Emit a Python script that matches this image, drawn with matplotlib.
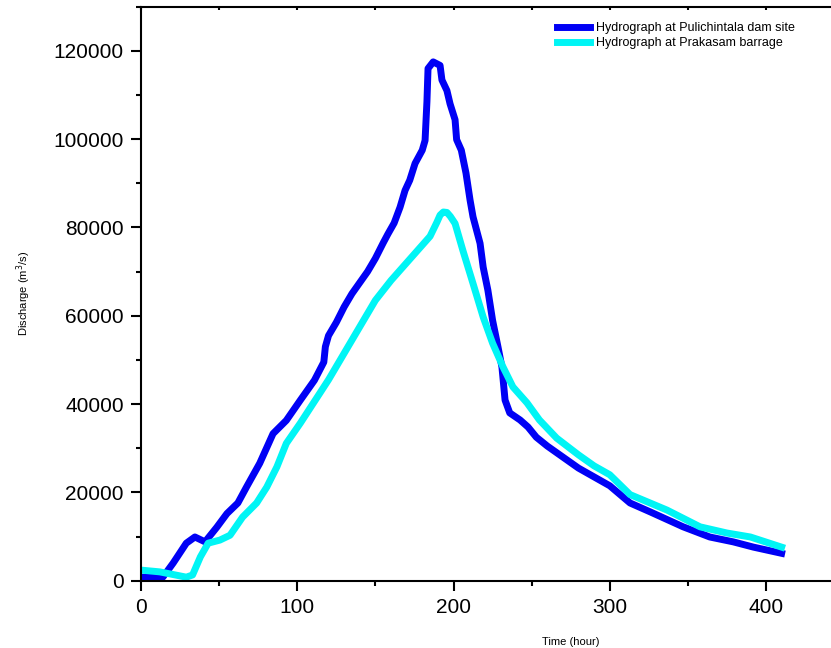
"""Discharge hydrographs at Pulichintala dam site and Prakasam barrage."""
import matplotlib

matplotlib.use("Agg")
import matplotlib.pyplot as plt
from matplotlib.ticker import MultipleLocator

plt.rcParams["font.family"] = ["Liberation Sans", "DejaVu Sans"]

# hydrograph at Pulichintala dam site (hour, m3/s)
PUL_T = [0, 1, 14, 20.6, 29, 34.5, 41, 48.5, 55, 62, 67.5, 76, 84.5, 93, 102, 111,
         117, 118, 120, 125, 130, 135, 140, 145, 150, 155, 158, 162, 165.8, 169, 172,
         175.4, 180, 181.8, 183, 183.7, 187, 191.4, 192.6, 195.8, 197.8, 201, 202, 205,
         208, 210.6, 212.5, 217, 219, 222, 225, 228.5, 231, 233, 236, 242.6, 247.7,
         253, 260, 270, 280, 290, 300, 313, 325.8, 347, 364, 379, 392, 410]
PUL_Q = [500, 800, 800, 4000, 8500, 9900, 8800, 12100, 15200, 17600, 21200, 26600,
         33300, 36300, 40900, 45400, 49500, 53000, 55500, 58500, 62000, 65000, 67500,
         70000, 73000, 76500, 78500, 81000, 84600, 88400, 90700, 94500, 97500, 99700,
         108500, 116000, 117500, 116700, 113400, 111000, 108000, 104400, 99900, 97500,
         92300, 86200, 82400, 76400, 71000, 65800, 59000, 52900, 48400, 40900, 38000,
         36400, 34800, 32500, 30500, 28000, 25500, 23500, 21500, 17600, 15600, 12200,
         9900, 8800, 7600, 6200]

# hydrograph at Prakasam barrage (hour, m3/s)
PRA_T = [0, 12, 29, 33, 38, 43, 50.5, 57, 65, 74, 80.5, 87, 93, 102, 114.5, 120, 130,
         140, 150, 160, 170, 180, 185, 189.4, 191.4, 193.5, 195.8, 198, 201, 206, 212.5,
         219, 225, 231.7, 238, 247, 255, 266, 280, 290, 300, 313, 336.6, 357.8, 375,
         390, 410]
PRA_Q = [2400, 2000, 800, 1300, 5400, 8500, 9200, 10300, 14400, 17600, 21200, 25800,
         31100, 35700, 42500, 45500, 51500, 57500, 63500, 68000, 72000, 76000, 78000,
         81200, 82800, 83500, 83400, 82500, 80900, 74800, 67300, 59700, 53800, 48400,
         43900, 40300, 36400, 32300, 28500, 26000, 24000, 19500, 16000, 12200, 10800,
         9900, 7600]

LABELS = ("Hydrograph at Pulichintala dam site", "Hydrograph at Prakasam barrage")
COLORS = ("#0000F5", "#00F5F5")


def main():
    fig = plt.figure(figsize=(8.31, 6.48), dpi=100)
    ax = fig.add_axes([141 / 831, 67.3 / 648, 690 / 831, 574 / 648])

    ax.plot(PUL_T, PUL_Q, color=COLORS[0], lw=5, solid_joinstyle="round", label=LABELS[0])
    ax.plot(PRA_T, PRA_Q, color=COLORS[1], lw=5, solid_joinstyle="round", label=LABELS[1])

    ax.set_xlim(0, 441.6)
    ax.set_ylim(0, 130000)
    ax.xaxis.set_major_locator(MultipleLocator(100))
    ax.xaxis.set_minor_locator(MultipleLocator(50))
    ax.yaxis.set_major_locator(MultipleLocator(20000))
    ax.yaxis.set_minor_locator(MultipleLocator(10000))

    for side in ("left", "bottom", "top"):
        ax.spines[side].set_linewidth(1.5)
    ax.spines["right"].set_visible(False)
    ax.tick_params(which="major", length=7.5, width=1.5, labelsize=15, pad=5)
    ax.tick_params(which="minor", length=3.3, width=1.5)
    ax.tick_params(axis="x", which="both", top=True, labeltop=False, direction="out")
    for tk in ax.xaxis.get_major_ticks() + ax.xaxis.get_minor_ticks():
        tk.tick2line.set_markersize(2.5)
        tk.tick2line.set_marker(3)

    ax.set_xlabel("Time (hour)", fontsize=8)
    ax.set_ylabel("Discharge (m$^3$/s)", fontsize=8)
    ax.xaxis.set_label_coords(0.623, -0.098)
    ax.yaxis.set_label_coords(-0.156, 0.5)

    ax.legend(loc="upper left", bbox_to_anchor=(557 / 831, 1 - 22 / 648),
              bbox_transform=fig.transFigure, frameon=False, fontsize=9,
              borderpad=0, borderaxespad=0, handlelength=2.6, handletextpad=0.5,
              labelspacing=0.25)

    fig.savefig("out.png", dpi=100)
    plt.close(fig)


if __name__ == "__main__":
    main()
